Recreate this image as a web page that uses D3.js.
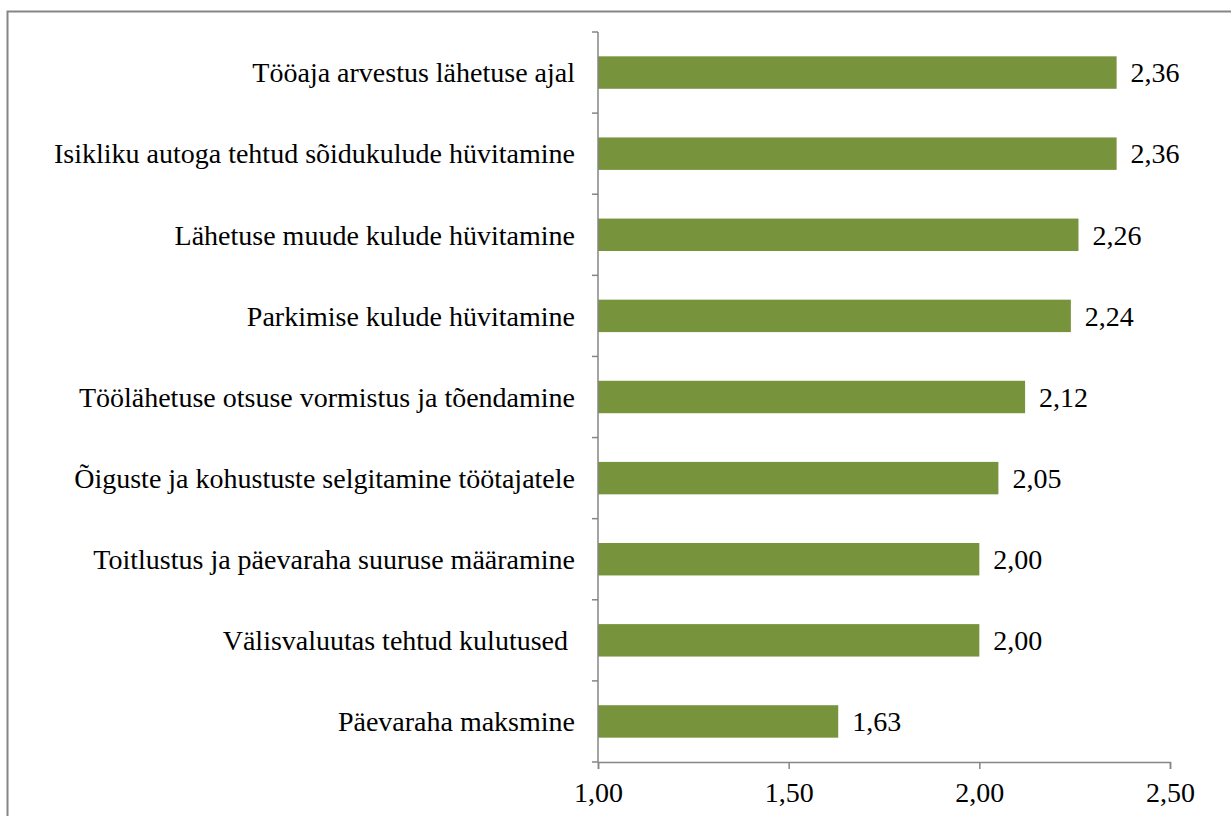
<!DOCTYPE html>
<html>

<head>
    <meta charset="utf-8">
    <script src="https://d3js.org/d3.v7.min.js"></script>
    <style>
        body {
            margin: 0;
            background: #fff;
            overflow: hidden;
        }

        svg text {
            font-family: "Liberation Serif", "Times New Roman", serif;
            fill: #000;
        }
    </style>
</head>

<body>
    <div id="chart"></div>
    <script>
        // categories top to bottom
        var categories = [
            "Tööaja arvestus lähetuse ajal",
            "Isikliku autoga tehtud sõidukulude hüvitamine",
            "Lähetuse muude kulude hüvitamine",
            "Parkimise kulude hüvitamine",
            "Töölähetuse otsuse vormistus ja tõendamine",
            "Õiguste ja kohustuste selgitamine töötajatele",
            "Toitlustus ja päevaraha suuruse määramine",
            "Välisvaluutas tehtud kulutused ",
            "Päevaraha maksmine"
        ];
        var values = [2.36, 2.36, 2.26, 2.24, 2.12, 2.05, 2.00, 2.00, 1.63];
        var xTicks = [1.00, 1.50, 2.00, 2.50];

        var width = 1231;
        var height = 816;
        var fontSize = 28;

        var svg = d3.select("#chart").append("svg")
            .attr("width", width)
            .attr("height", height);

        // outer frame
        svg.append("rect")
            .attr("x", 7.5)
            .attr("y", 11.5)
            .attr("width", 1240)
            .attr("height", 840)
            .attr("fill", "none")
            .attr("stroke", "#868686")
            .attr("stroke-width", 2);

        var x = d3.scaleLinear().domain([1, 2.5]).range([598, 1170]);
        var y = d3.scaleBand().domain(categories).range([32, 762]).paddingInner(0.6).paddingOuter(0.3);

        var fmt = d => d.toFixed(2).replace(".", ",");

        // bars
        svg.append("g").selectAll("rect")
            .data(values)
            .join("rect")
            .attr("x", x(1))
            .attr("y", (d, i) => y(categories[i]))
            .attr("width", d => x(d) - x(1))
            .attr("height", y.bandwidth())
            .attr("fill", "#77933C");

        // value labels
        svg.append("g").selectAll("text")
            .data(values)
            .join("text")
            .attr("x", d => x(d) + 14)
            .attr("y", (d, i) => y(categories[i]) + y.bandwidth() / 2)
            .attr("dy", "0.35em")
            .style("font-size", fontSize + "px")
            .text(fmt);

        // y axis
        var yg = svg.append("g");
        yg.append("line")
            .attr("x1", x(1)).attr("x2", x(1))
            .attr("y1", 32).attr("y2", 762)
            .attr("stroke", "#868686").attr("stroke-width", 1.5);
        var bandTicks = d3.range(categories.length + 1).map(i => 32 + i * (730 / categories.length));
        yg.selectAll(".tick")
            .data(bandTicks)
            .join("line")
            .attr("x1", x(1) - 6).attr("x2", x(1))
            .attr("y1", d => d).attr("y2", d => d)
            .attr("stroke", "#868686").attr("stroke-width", 1.5);
        yg.selectAll("text")
            .data(categories)
            .join("text")
            .attr("x", x(1) - 23)
            .attr("y", d => y(d) + y.bandwidth() / 2)
            .attr("dy", "0.35em")
            .attr("text-anchor", "end")
            .style("font-size", fontSize + "px")
            .style("white-space", "pre")
            .text(d => d);

        // x axis
        var xg = svg.append("g")
            .attr("transform", "translate(0,762)")
            .call(d3.axisBottom(x).tickValues(xTicks).tickSize(7).tickPadding(13).tickFormat(fmt));
        xg.select(".domain").attr("stroke", "#868686").attr("stroke-width", 1.5);
        xg.selectAll(".tick line").attr("stroke", "#868686").attr("stroke-width", 1.5);
        xg.selectAll(".tick text")
            .style("font-size", fontSize + "px")
            .attr("font-family", null)
            .attr("fill", "#000");
    </script>
</body>

</html>
